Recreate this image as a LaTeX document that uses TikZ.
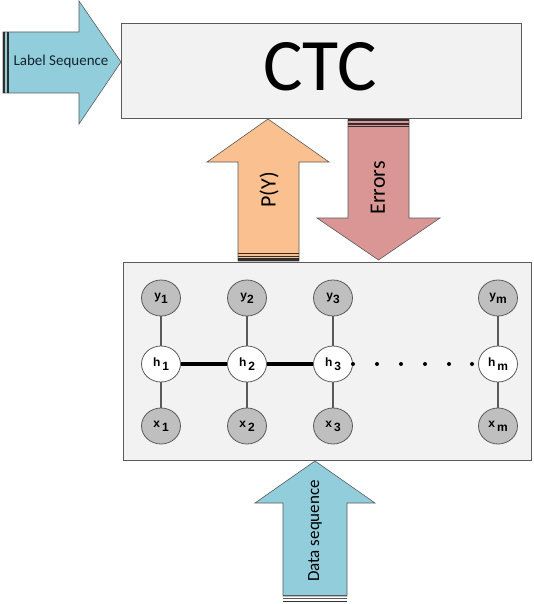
\documentclass[tikz,border=0pt]{standalone}
\usepackage{fontspec}
\setmainfont{Carlito}
\newfontfamily\nodefont{Liberation Sans}
\usetikzlibrary{shapes.geometric}
\definecolor{aqua}{RGB}{146,205,220}
\definecolor{peach}{RGB}{250,192,144}
\definecolor{rose}{RGB}{217,150,148}
\definecolor{boxfill}{RGB}{242,242,242}
\definecolor{nodegray}{RGB}{191,191,191}
\definecolor{edgegray}{RGB}{90,90,90}
\definecolor{darkband}{RGB}{50,45,45}
\definecolor{textdark}{RGB}{20,35,45}
\tikzset{
  panel/.style={draw=edgegray, line width=0.8pt, fill=boxfill},
  bigarrow/.style={draw=edgegray, line width=0.6pt},
  gnode/.style={ellipse, draw=edgegray, line width=0.8pt, fill=nodegray, minimum width=39pt, minimum height=36pt, inner sep=0pt, font=\nodefont\bfseries\fontsize{12}{12}\selectfont},
  hnode/.style={gnode, fill=white},
  vline/.style={draw=edgegray, line width=1.1pt},
  hline/.style={draw=black, line width=3.6pt},
  band/.style={fill=darkband},
  lightband/.style={fill=darkband!80},
}
\newcommand{\sbs}[1]{\raisebox{-4pt}{\fontsize{12}{12}\selectfont #1}}
\begin{document}
\begin{tikzpicture}[x=1pt,y=-1pt]
\useasboundingbox[fill=white] (0,0) rectangle (534,604);
% CTC box
\draw[panel] (121,23) rectangle (521,118);
\node (ctc) at (320,67) {\fontsize{74}{74}\selectfont CTC};
% Label sequence arrow
\fill[aqua, bigarrow] (3,32) -- (79,32) -- (79,1) -- (121,62) -- (79,124) -- (79,93) -- (3,93) -- cycle;
\fill[band] (2.5,32) rectangle (4.5,93);
\fill[band] (6.5,32) rectangle (8.5,93);
\node[text=textdark] (lab) at (61,62) {\fontsize{15}{15}\selectfont Label Sequence};
% P(Y) arrow
\fill[peach, bigarrow] (238,261) -- (238,162) -- (207,162) -- (268,119) -- (329,162) -- (299,162) -- (299,261) -- cycle;
\fill[band] (238,252.5) rectangle (299,253.7);
\fill[band] (238,255.5) rectangle (299,256.7);
\fill[band] (238,258.3) rectangle (299,261);
\node[rotate=90] (py) at (269,190) {\fontsize{22}{22}\selectfont P(Y)};
% Errors arrow
\fill[rose, bigarrow] (348,119) -- (348,218) -- (317,218) -- (378.5,260) -- (440,218) -- (409,218) -- (409,119) -- cycle;
\fill[band] (348,119) rectangle (409,121.5);
\fill[band] (348,123.5) rectangle (409,124.7);
\fill[band] (348,126.3) rectangle (409,127.5);
\node[rotate=90] (err) at (378,188) {\fontsize{22}{22}\selectfont Errors};
% RNN panel
\draw[panel] (123,262) rectangle (531,460);
\foreach \i/\x in {1/161,2/247,3/333,m/498}{
  \node[gnode] (y\i) at (\x,298) {y\sbs{\i}};
  \node[hnode] (h\i) at (\x,364) {h\,\sbs{\i}};
  \node[gnode] (x\i) at (\x,426) {x\,\sbs{\i}};
  \draw[vline] (y\i) -- (h\i);
  \draw[vline] (h\i) -- (x\i);
}
\draw[hline] (h1) -- (h2);
\draw[hline] (h2) -- (h3);
\foreach \x in {353,377,401,425,449,472}{
  \fill[black] (\x,364) circle (2);
}
% Data sequence arrow
\fill[aqua, bigarrow] (283,596) -- (283,503) -- (255,503) -- (315,461) -- (375,503) -- (347,503) -- (347,596) -- cycle;
\fill[edgegray] (283,594.6) rectangle (347,595.8);
\fill[lightband] (283,597.6) rectangle (347,598.8);
\fill[band] (283,600.5) rectangle (347,602.3);
\node[rotate=90] (data) at (315,531) {\fontsize{17}{17}\selectfont Data sequence};
\end{tikzpicture}
\end{document}
